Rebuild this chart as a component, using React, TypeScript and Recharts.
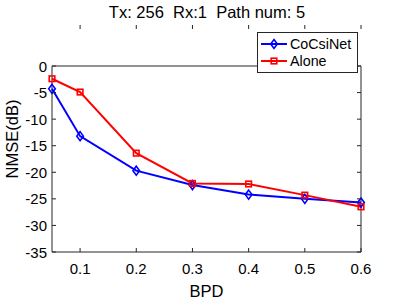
import React from 'react'
import {
  LineChart,
  Line,
  XAxis,
  YAxis,
  Legend,
  ReferenceArea,
} from 'recharts'

const bpd = [0.05, 0.1, 0.2, 0.3, 0.4, 0.5, 0.6]
const coCsiNet = [-4.3, -13.2, -19.7, -22.4, -24.2, -25.0, -25.7]
const alone = [-2.4, -4.9, -16.4, -22.1, -22.2, -24.3, -26.5]
const xTicks = [0.1, 0.2, 0.3, 0.4, 0.5, 0.6]
const yTicks = [-35, -30, -25, -20, -15, -10, -5, 0]

const data = bpd.map((b, i) => ({ bpd: b, CoCsiNet: coCsiNet[i], Alone: alone[i] }))

const W = 399
const H = 299
const PL = 52
const PR = 361
const PT = 25
const PB = 252
const AX = '#262626'
const FONT = '"Liberation Sans", Arial, sans-serif'

const XTick = ({ x, payload }: any) => (
  <g>
    <line x1={x} x2={x} y1={PB} y2={PB - 4} stroke={AX} />
    <line x1={x} x2={x} y1={PT} y2={PT + 4} stroke={AX} />
    <text x={x} y={PB + 22} textAnchor="middle" fontSize={15} fill="#000" fontFamily={FONT}>
      {payload.value}
    </text>
  </g>
)

const YTick = ({ y, payload }: any) => (
  <g>
    <line x1={PL} x2={PL + 4} y1={y} y2={y} stroke={AX} />
    <line x1={PR} x2={PR - 4} y1={y} y2={y} stroke={AX} />
    <text x={PL - 5} y={y + 5.5} textAnchor="end" fontSize={15} fill="#000" fontFamily={FONT}>
      {payload.value}
    </text>
  </g>
)

const Diamond = ({ cx, cy }: any) => (
  <path
    d={`M${cx},${cy - 4.5}L${cx + 3.3},${cy}L${cx},${cy + 4.5}L${cx - 3.3},${cy}Z`}
    fill="none"
    stroke="#0000ff"
    strokeWidth={1.6}
  />
)

const Square = ({ cx, cy }: any) => (
  <rect x={cx - 2.8} y={cy - 2.8} width={5.6} height={5.6} fill="none" stroke="#ff0000" strokeWidth={1.6} />
)

const renderLegend = () => (
  <svg width={101} height={41} style={{ display: 'block' }}>
    <rect x={0.5} y={0.5} width={100} height={40} fill="#fff" stroke={AX} />
    <line x1={4} x2={30} y1={12} y2={12} stroke="#0000ff" strokeWidth={2} />
    <Diamond cx={17} cy={12} />
    <text x={33} y={17} fontSize={14.3} fontFamily={FONT} fill="#000">CoCsiNet</text>
    <line x1={4} x2={30} y1={29} y2={29} stroke="#ff0000" strokeWidth={2} />
    <Square cx={17} cy={29} />
    <text x={33} y={34} fontSize={14.3} fontFamily={FONT} fill="#000">Alone</text>
  </svg>
)

export default function App() {
  return (
    <div style={{ position: 'absolute', left: 0, top: 0, width: W, height: H, background: '#fff' }}>
      <LineChart
        width={W}
        height={H}
        data={data}
        margin={{ top: PT, right: W - PR, bottom: 0, left: 0 }}
      >
        <text x={207} y={18} textAnchor="middle" fontSize={16.5} fontFamily={FONT} fill="#000">
          {'Tx: 256\u00a0\u00a0Rx:1\u00a0\u00a0Path num: 5'}
        </text>
        <text
          x={18}
          y={139}
          textAnchor="middle"
          fontSize={16.5}
          fontFamily={FONT}
          fill="#000"
          transform="rotate(-90 18 139)"
        >
          NMSE(dB)
        </text>
        <ReferenceArea x1={0.05} x2={0.6} y1={-35} y2={0} fill="none" stroke={AX} strokeWidth={1} />
        <XAxis
          dataKey="bpd"
          type="number"
          domain={[0.05, 0.6]}
          ticks={xTicks}
          height={H - PB}
          tick={<XTick />}
          tickLine={false}
          axisLine={false}
          label={{ value: 'BPD', position: 'insideBottom', offset: 2, fontSize: 16.5, fill: '#000', fontFamily: FONT }}
        />
        <YAxis
          type="number"
          domain={[-35, 0]}
          ticks={yTicks}
          width={PL}
          tick={<YTick />}
          tickLine={false}
          axisLine={false}
        />
        <Legend
          verticalAlign="top"
          align="right"
          content={renderLegend}
          wrapperStyle={{ left: 257, top: 32, width: 101, height: 41 }}
        />
        <Line
          dataKey="CoCsiNet"
          stroke="#0000ff"
          strokeWidth={2}
          dot={<Diamond />}
          isAnimationActive={false}
        />
        <Line
          dataKey="Alone"
          stroke="#ff0000"
          strokeWidth={2}
          dot={<Square />}
          isAnimationActive={false}
        />
      </LineChart>
    </div>
  )
}
